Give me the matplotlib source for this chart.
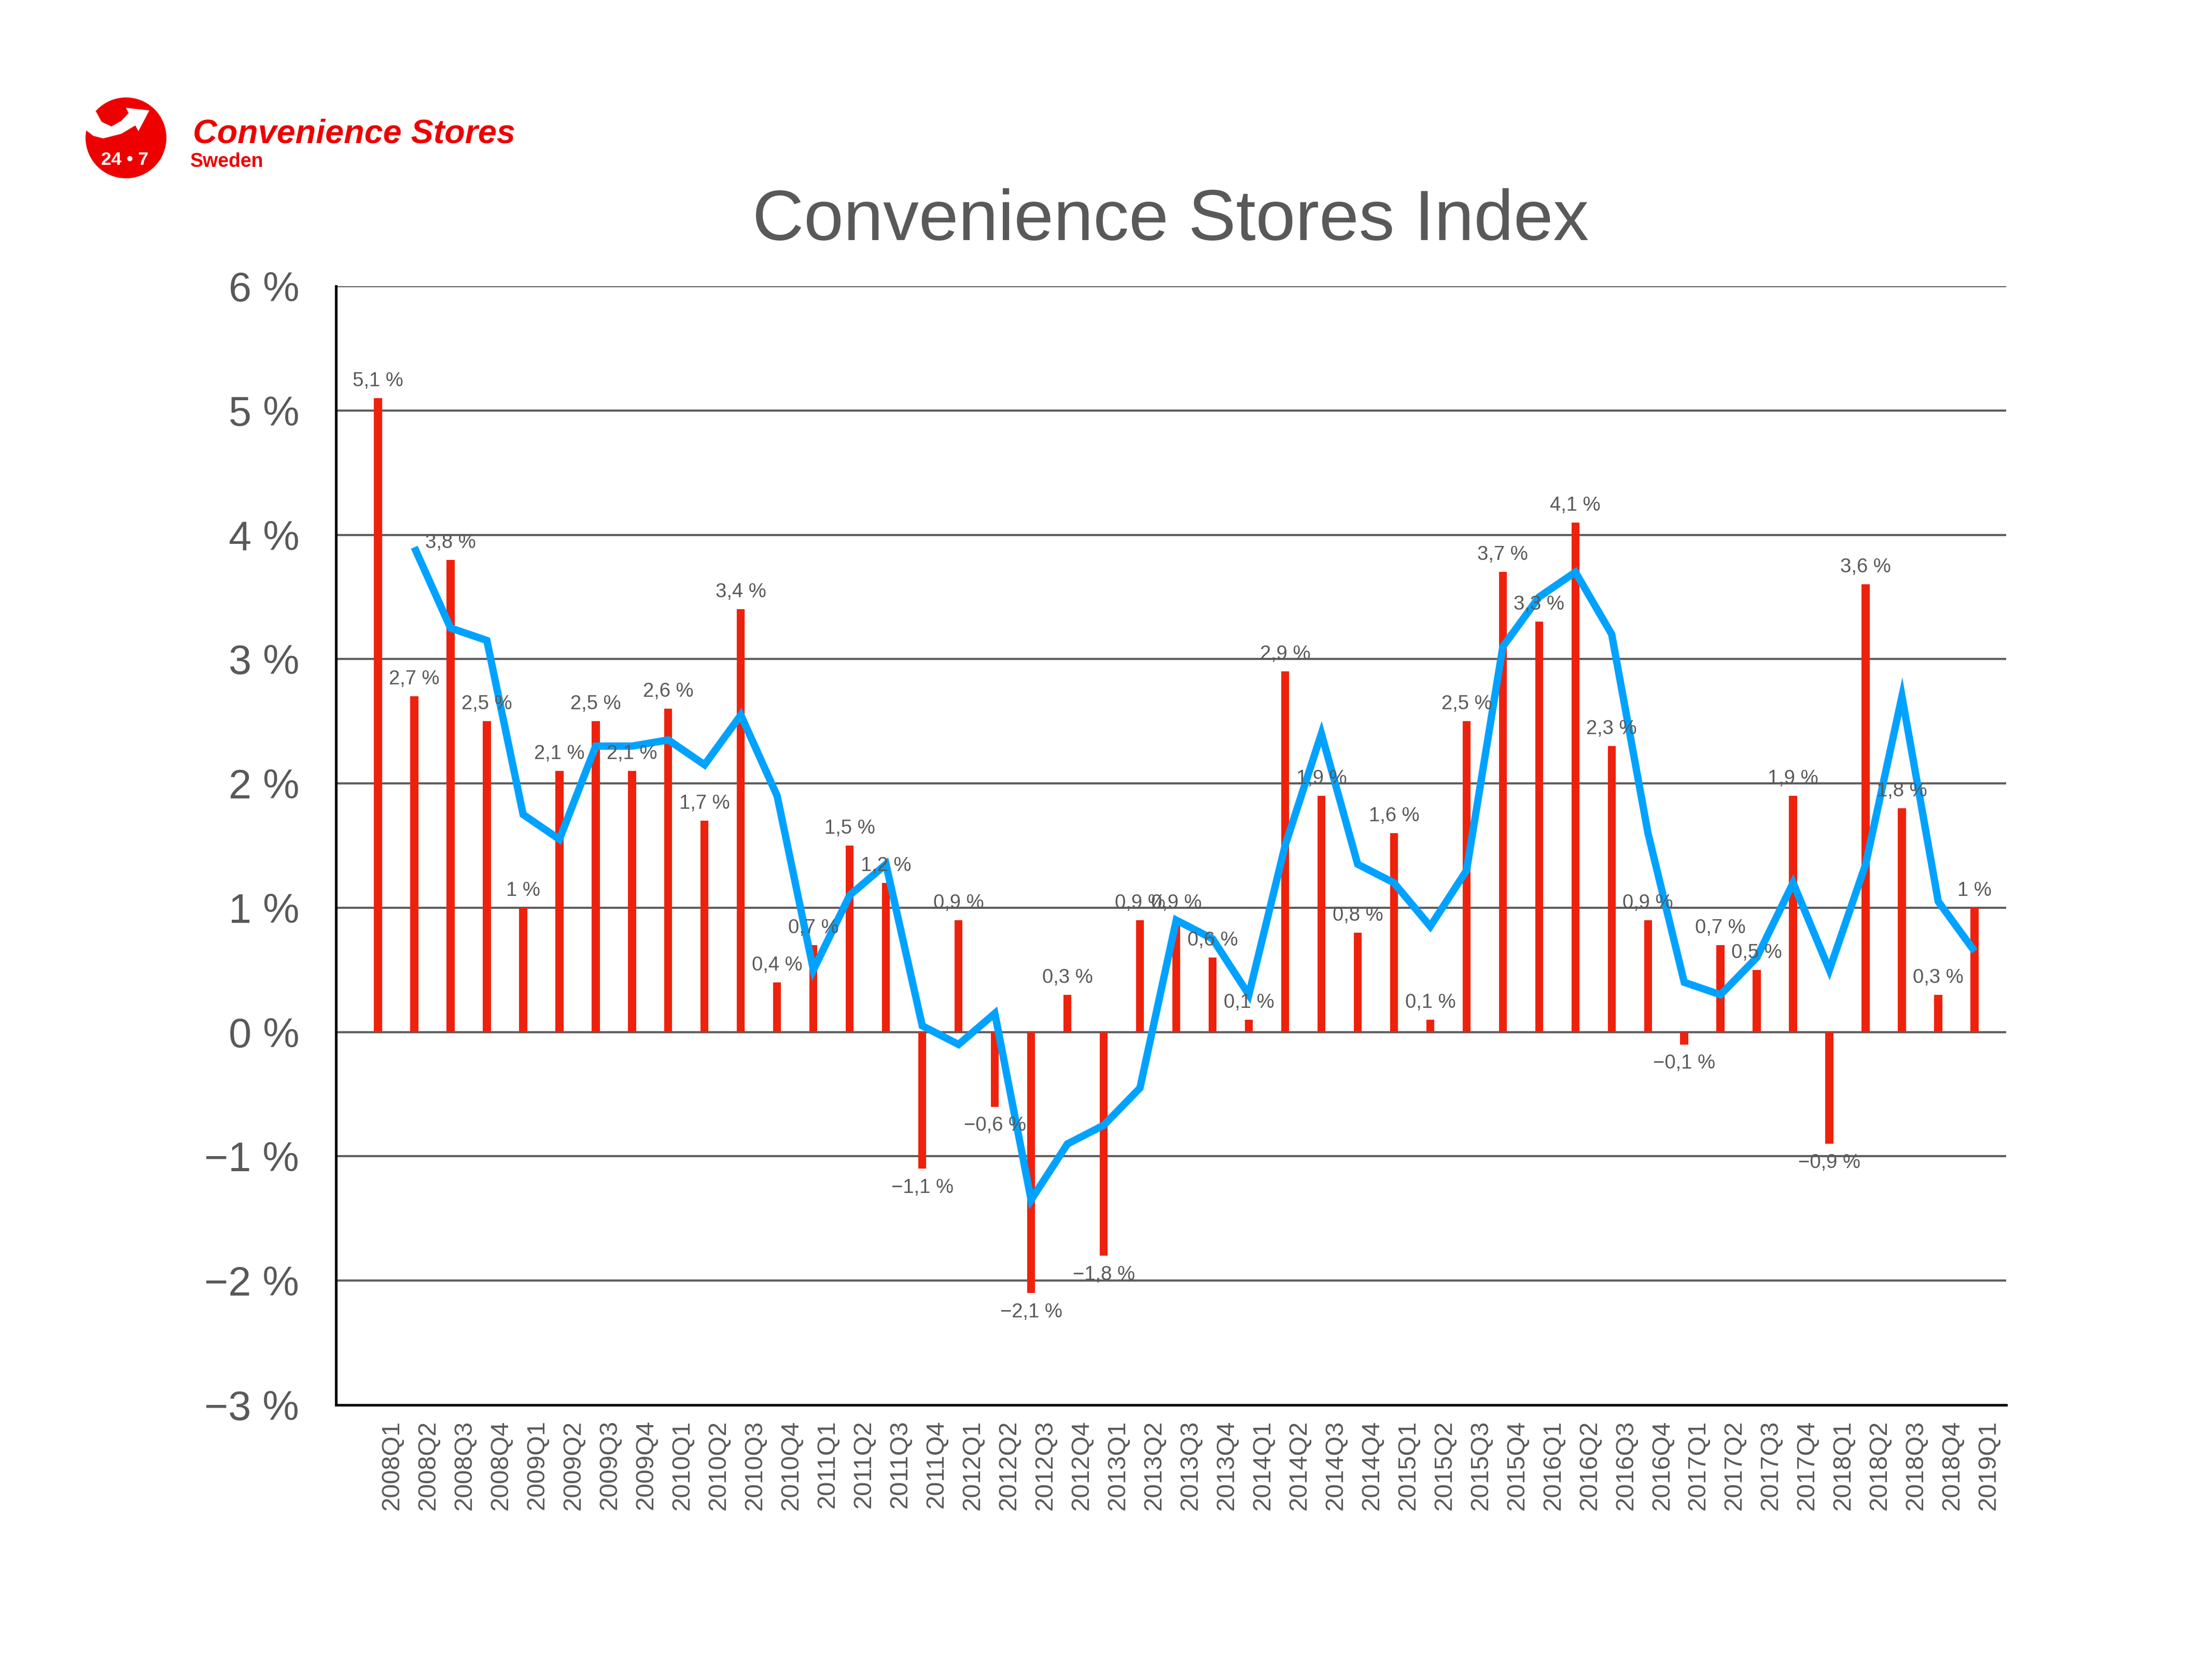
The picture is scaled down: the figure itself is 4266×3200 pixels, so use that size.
import numpy as np
import matplotlib
matplotlib.use("Agg")
import matplotlib.pyplot as plt
from matplotlib.patches import Circle, Polygon

plt.rcParams['font.family'] = ['Liberation Sans', 'DejaVu Sans']

quarters = ['2008Q1', '2008Q2', '2008Q3', '2008Q4', '2009Q1', '2009Q2', '2009Q3', '2009Q4',
            '2010Q1', '2010Q2', '2010Q3', '2010Q4', '2011Q1', '2011Q2', '2011Q3', '2011Q4',
            '2012Q1', '2012Q2', '2012Q3', '2012Q4', '2013Q1', '2013Q2', '2013Q3', '2013Q4',
            '2014Q1', '2014Q2', '2014Q3', '2014Q4', '2015Q1', '2015Q2', '2015Q3', '2015Q4',
            '2016Q1', '2016Q2', '2016Q3', '2016Q4', '2017Q1', '2017Q2', '2017Q3', '2017Q4',
            '2018Q1', '2018Q2', '2018Q3', '2018Q4', '2019Q1']

bar_values = [5.1, 2.7, 3.8, 2.5, 1, 2.1, 2.5, 2.1, 2.6, 1.7, 3.4, 0.4, 0.7, 1.5, 1.2, -1.1,
              0.9, -0.6, -2.1, 0.3, -1.8, 0.9, 0.9, 0.6, 0.1, 2.9, 1.9, 0.8, 1.6, 0.1, 2.5, 3.7,
              3.3, 4.1, 2.3, 0.9, -0.1, 0.7, 0.5, 1.9, -0.9, 3.6, 1.8, 0.3, 1]

# no value for the first quarter
line_values = [np.nan, 3.9, 3.25, 3.15, 1.75, 1.55, 2.3, 2.3, 2.35, 2.15, 2.55, 1.9, 0.5, 1.1,
               1.35, 0.05, -0.1, 0.15, -1.35, -0.9, -0.75, -0.45, 0.9, 0.75, 0.3, 1.5, 2.4, 1.35,
               1.2, 0.85, 1.3, 3.1, 3.5, 3.7, 3.2, 1.6, 0.4, 0.3, 0.6, 1.2, 0.5, 1.35, 2.7, 1.05,
               0.65]

y_ticks = [-3, -2, -1, 0, 1, 2, 3, 4, 5, 6]

GREY = '#595959'
W, H = 4266, 3200


def pct(v):
    return f"{v:g}".replace('.', ',').replace('-', '\u2212') + ' %'


fig = plt.figure(figsize=(W / 300, H / 300), dpi=300, facecolor='white')
ax = fig.add_axes([648 / W, 1 - 2710 / H, (3869 - 648) / W, (2710 - 552) / H])

x = np.arange(len(quarters))
bars = ax.bar(x, bar_values, width=0.22, color='#EE220C', zorder=2)
ax.plot(x, line_values, color='#00A2FF', lw=3.4, solid_joinstyle='miter',
        solid_capstyle='butt', zorder=3)

# labels sit just outside the end of each bar
for xi, v in zip(x, bar_values):
    off = 3.6 if v >= 0 else -4.5
    ax.annotate(pct(v), (xi, v), xytext=(0, off), textcoords='offset points',
                ha='center', va='bottom' if v >= 0 else 'top', fontsize=9.2,
                color=GREY, zorder=4)

ax.set_xlim(-81 / 70, 44 + 61 / 70)
ax.set_ylim(-3, 6)
ax.set_yticks(y_ticks)
ax.set_yticklabels([pct(t) for t in y_ticks], fontsize=19, color=GREY)
ax.set_xticks(x + 0.39)
ax.set_xticklabels(quarters, rotation=90, fontsize=11.7, color=GREY)
ax.tick_params(axis='x', length=0, pad=7)
ax.tick_params(axis='y', length=0, pad=17)
ax.grid(axis='y', color='#5F5F5F', linewidth=1.0, zorder=1)
ax.set_axisbelow(True)
for side in ['top', 'right']:
    ax.spines[side].set_visible(False)
for side in ['left', 'bottom']:
    ax.spines[side].set_linewidth(1.2)
    ax.spines[side].set_color('black')

# overlay in pixel coordinates for the title and logo
over = fig.add_axes([0, 0, 1, 1], facecolor='none')
over.set_xlim(0, W)
over.set_ylim(H, 0)
over.axis('off')

over.text(2258, 427, 'Convenience Stores Index', fontsize=33, color=GREY, ha='center', va='center')

LOGO = '#EE0000'
over.add_patch(Circle((243, 266), 78, color=LOGO, lw=0))
swoosh = [(185, 215), (196, 235), (215, 244), (234, 233), (248, 218), (243, 208), (288, 213),
          (267, 253), (261, 242), (234, 258), (199, 267), (180, 262), (167, 252), (150, 252),
          (150, 215)]
over.add_patch(Polygon(swoosh, closed=True, color='white', lw=0))
over.text(241, 308, '24 \u2022 7', fontsize=8.5, fontweight='bold', color='white', ha='center', va='center')
over.text(372, 276, 'Convenience Stores', fontsize=15.5, fontweight='bold', fontstyle='italic',
          color=LOGO, ha='left', va='baseline')
over.text(367, 322, 'Sweden', fontsize=9, fontweight='bold', color=LOGO, ha='left', va='baseline')

fig.savefig('out.png', dpi=300)
